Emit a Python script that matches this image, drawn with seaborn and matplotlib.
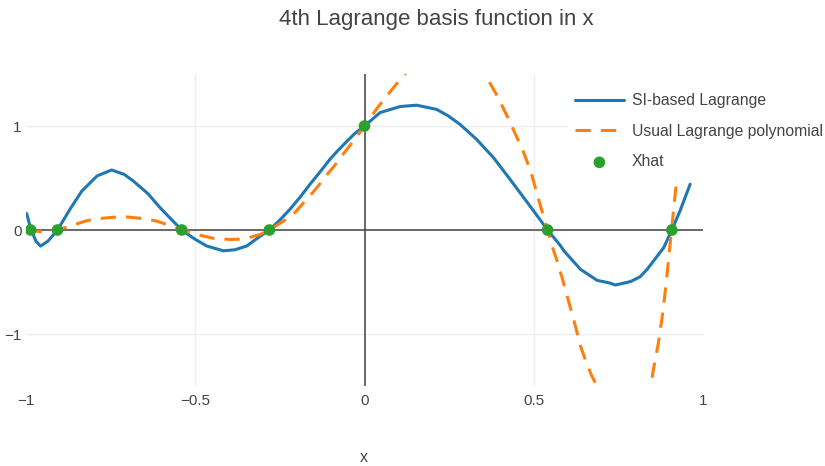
import matplotlib
matplotlib.use("Agg")
import matplotlib.pyplot as plt
import seaborn as sns
import pandas as pd

# --- data ---
si_x = [-0.998, -0.985, -0.970, -0.957, -0.935, -0.907, -0.870, -0.835, -0.790, -0.747,
        -0.710, -0.683, -0.640, -0.604, -0.570, -0.540, -0.500, -0.466, -0.417, -0.383,
        -0.348, -0.314, -0.281, -0.250, -0.220, -0.190, -0.161, -0.131, -0.102, -0.077,
        -0.051, -0.028, 0.000, 0.046, 0.105, 0.154, 0.213, 0.248, 0.282, 0.331,
        0.381, 0.430, 0.489, 0.541, 0.578, 0.589, 0.638, 0.687, 0.725, 0.741,
        0.786, 0.814, 0.835, 0.884, 0.908, 0.932, 0.962]
si_y = [0.158, 0.0, -0.11, -0.155, -0.106, 0.0, 0.20, 0.375, 0.52, 0.577,
        0.535, 0.471, 0.35, 0.215, 0.10, 0.0, -0.09, -0.154, -0.20, -0.19,
        -0.154, -0.073, 0.0, 0.096, 0.20, 0.317, 0.44, 0.56, 0.68, 0.77,
        0.856, 0.93, 1.0, 1.129, 1.187, 1.20, 1.16, 1.096, 1.016, 0.872,
        0.696, 0.487, 0.23, 0.0, -0.147, -0.20, -0.378, -0.484, -0.51, -0.529,
        -0.496, -0.45, -0.378, -0.169, 0.0, 0.183, 0.44]

us_x = [-0.998, -0.986, -0.960, -0.930, -0.907, -0.880, -0.820, -0.785, -0.740, -0.700,
        -0.654, -0.613, -0.568, -0.540, -0.486, -0.447, -0.397, -0.358, -0.310, -0.281,
        -0.235, -0.205, -0.175, -0.145, -0.116, -0.086, -0.063, -0.034, 0.000, 0.037,
        0.061, 0.096, 0.125, 0.150, 0.250, 0.340, 0.355, 0.371, 0.392, 0.410,
        0.430, 0.446, 0.466, 0.480, 0.495, 0.513, 0.527, 0.541, 0.555, 0.569,
        0.583, 0.599, 0.617, 0.639, 0.655, 0.671, 0.690, 0.760, 0.845, 0.853,
        0.868, 0.881, 0.891, 0.907, 0.922]
us_y = [0.01, 0.0, -0.016, -0.012, 0.0, 0.028, 0.09, 0.11, 0.123, 0.125,
        0.11, 0.085, 0.035, 0.0, -0.05, -0.08, -0.091, -0.087, -0.045, 0.0,
        0.095, 0.17, 0.28, 0.39, 0.51, 0.63, 0.73, 0.85, 1.0, 1.17,
        1.27, 1.41, 1.52, 1.62, 1.90, 1.62, 1.50, 1.41, 1.29, 1.17,
        1.04, 0.92, 0.78, 0.66, 0.52, 0.31, 0.15, 0.0, -0.16, -0.30,
        -0.45, -0.64, -0.85, -1.125, -1.27, -1.40, -1.52, -1.90, -1.52, -1.35,
        -1.09, -0.80, -0.515, 0.0, 0.48]

xhat_x = [-0.986, -0.907, -0.540, -0.281, 0.0, 0.541, 0.908]
xhat_y = [0, 0, 0, 0, 1, 0, 0]

x_ticks = [-1, -0.5, 0, 0.5, 1]
x_tick_labels = ["\u22121", "\u22120.5", "0", "0.5", "1"]
y_ticks = [-1, 0, 1]
y_tick_labels = ["\u22121", "0", "1"]

series_names = ["SI-based Lagrange", "Usual Lagrange polynomial", "Xhat"]
title = "4th Lagrange basis function in x"

# --- style ---
sns.set_theme(style="white")
plt.rcParams["font.family"] = ["Liberation Sans", "DejaVu Sans"]
text_col = "#444444"

fig = plt.figure(figsize=(8.25, 4.66), dpi=100)
ax = fig.add_axes([26 / 825, 1 - 386 / 466, (703 - 26) / 825, (386 - 74) / 466])

df_si = pd.DataFrame({"x": si_x, "y": si_y})
df_us = pd.DataFrame({"x": us_x, "y": us_y})
df_xh = pd.DataFrame({"x": xhat_x, "y": xhat_y})

ax.axhline(0, color=text_col, lw=1.1, zorder=1.5)
ax.axvline(0, color=text_col, lw=1.1, zorder=1.5)

sns.lineplot(data=df_si, x="x", y="y", ax=ax, sort=False, estimator=None,
             color="#1f77b4", lw=2.2, label=series_names[0], zorder=3)
sns.lineplot(data=df_us, x="x", y="y", ax=ax, sort=False, estimator=None,
             color="#ff7f0e", lw=2.2, linestyle=(0, (5, 3.3)),
             label=series_names[1], zorder=3)
sns.scatterplot(data=df_xh, x="x", y="y", ax=ax, color="#2ca02c", s=70,
                edgecolor="none", label=series_names[2], zorder=4)

ax.set_xlim(-1, 1)
ax.set_ylim(-1.5, 1.5)
ax.set_xticks(x_ticks)
ax.set_xticklabels(x_tick_labels)
ax.set_yticks(y_ticks)
ax.set_yticklabels(y_tick_labels)
ax.grid(True, color="#eeeeee", lw=1.0)
gl = ax.xaxis.get_gridlines()
gl[0].set_visible(False)
gl[-1].set_visible(False)
ax.tick_params(axis="both", length=0, labelsize=11, labelcolor=text_col)
ax.tick_params(axis="x", pad=6)
ax.tick_params(axis="y", pad=3)
for s in ax.spines.values():
    s.set_visible(False)
ax.set_xlabel("")
ax.set_ylabel("")

fig.text(364 / 825, 1 - 457 / 466, "x", ha="center", va="center",
         fontsize=11.5, color=text_col)
fig.text(436 / 825, 1 - 19 / 466, title, ha="center", va="center",
         fontsize=16, color=text_col)

leg = ax.legend(loc="upper left", bbox_to_anchor=(568 / 825, 1 - 86 / 466),
                bbox_transform=fig.transFigure, frameon=True, fancybox=False,
                fontsize=11.3, handlelength=3.1, handletextpad=0.5,
                labelspacing=1.0, borderpad=0.45, borderaxespad=0)
leg.get_frame().set_facecolor("white")
leg.get_frame().set_edgecolor("none")
leg.get_frame().set_alpha(1)
leg.set_zorder(10)
for t in leg.get_texts():
    t.set_color(text_col)

fig.savefig("out.png", dpi=100, facecolor="white")
